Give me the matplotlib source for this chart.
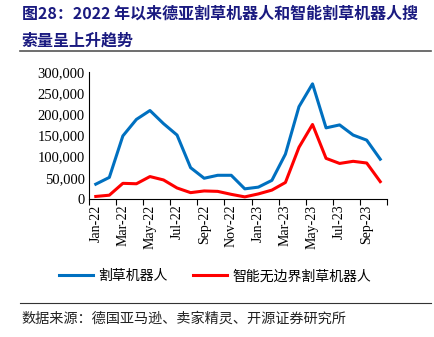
import numpy as np
import matplotlib.pyplot as plt
from matplotlib.lines import Line2D
from matplotlib.ticker import FuncFormatter, FixedLocator

plt.rcParams['font.family'] = ['Liberation Serif', 'Noto Sans CJK SC']

months = ["Jan-22", "Feb-22", "Mar-22", "Apr-22", "May-22", "Jun-22", "Jul-22", "Aug-22",
          "Sep-22", "Oct-22", "Nov-22", "Dec-22", "Jan-23", "Feb-23", "Mar-23", "Apr-23",
          "May-23", "Jun-23", "Jul-23", "Aug-23", "Sep-23", "Oct-23"]
mower = [35000, 51000, 149000, 188000, 209000, 178000, 151000, 74000, 49000, 56000, 56000,
         24000, 28000, 44000, 106000, 218000, 272000, 168000, 175000, 151000, 139000, 94000]
smart = [6000, 9000, 37000, 36000, 53000, 45000, 26000, 15000, 19000, 18000, 11000,
         5000, 12000, 21000, 39000, 122000, 176000, 96000, 84000, 89000, 85000, 41000]

cjk = ['Noto Sans CJK SC', 'DejaVu Sans']

fig = plt.figure(figsize=(4.35, 3.37), dpi=100)
ax = fig.add_axes([0.2046, 0.4095, 0.6851, 0.3769])

x = np.arange(len(months))
ax.plot(x, mower, color="#0070C0", lw=2.2, label="割草机器人")
ax.plot(x, smart, color="#FF0000", lw=2.2, label="智能无边界割草机器人")

ax.set_xlim(-0.5, len(months) - 0.5)
ax.set_ylim(0, 300000)
ax.set_yticks(np.arange(0, 300001, 50000))
ax.yaxis.set_major_formatter(FuncFormatter(lambda v, p: f"{int(v):,}"))

# ticks at category boundaries, labels every other month
ax.xaxis.set_major_locator(FixedLocator(np.arange(-0.5, len(months), 2)))
ax.xaxis.set_major_formatter(FuncFormatter(lambda v, p: ""))
ax.set_xticks(x[::2], minor=True)
ax.set_xticklabels(months[::2], minor=True, rotation=90)
ax.tick_params(axis="x", which="minor", length=0, labelsize=10, pad=4)
ax.tick_params(axis="x", which="major", length=4, direction="out")
ax.tick_params(axis="y", length=0, labelsize=10.5, pad=3)

for s in ["top", "right"]:
    ax.spines[s].set_visible(False)
ax.spines["left"].set_linewidth(0.8)
ax.spines["bottom"].set_linewidth(0.8)

fig.legend(handles=[Line2D([], [], color="#0070C0", lw=2.2), Line2D([], [], color="#FF0000", lw=2.2)],
           labels=["割草机器人", "智能无边界割草机器人"], loc="center", bbox_to_anchor=(0.494, 0.18),
           ncol=2, frameon=False, prop={"family": cjk, "size": 10}, handlelength=2.5,
           columnspacing=1.8, handletextpad=0.35)

fig.text(0.05, 0.958, "图28：2022 年以来德亚割草机器人和智能割草机器人搜", family=cjk,
         fontsize=11.5, fontweight="bold", color="#1a1a80", va="center")
fig.text(0.05, 0.88, "索量呈上升趋势", family=cjk,
         fontsize=11.5, fontweight="bold", color="#1a1a80", va="center")
fig.add_artist(Line2D([0.045, 0.99], [0.849, 0.849], color="#555555", lw=1.2))
fig.add_artist(Line2D([0.045, 0.99], [0.1, 0.1], color="#333333", lw=0.8))
fig.text(0.05, 0.055, "数据来源：德国亚马逊、卖家精灵、开源证券研究所", family=cjk,
         fontsize=10.2, color="#222222", va="center")

plt.savefig("out.png", dpi=100)
